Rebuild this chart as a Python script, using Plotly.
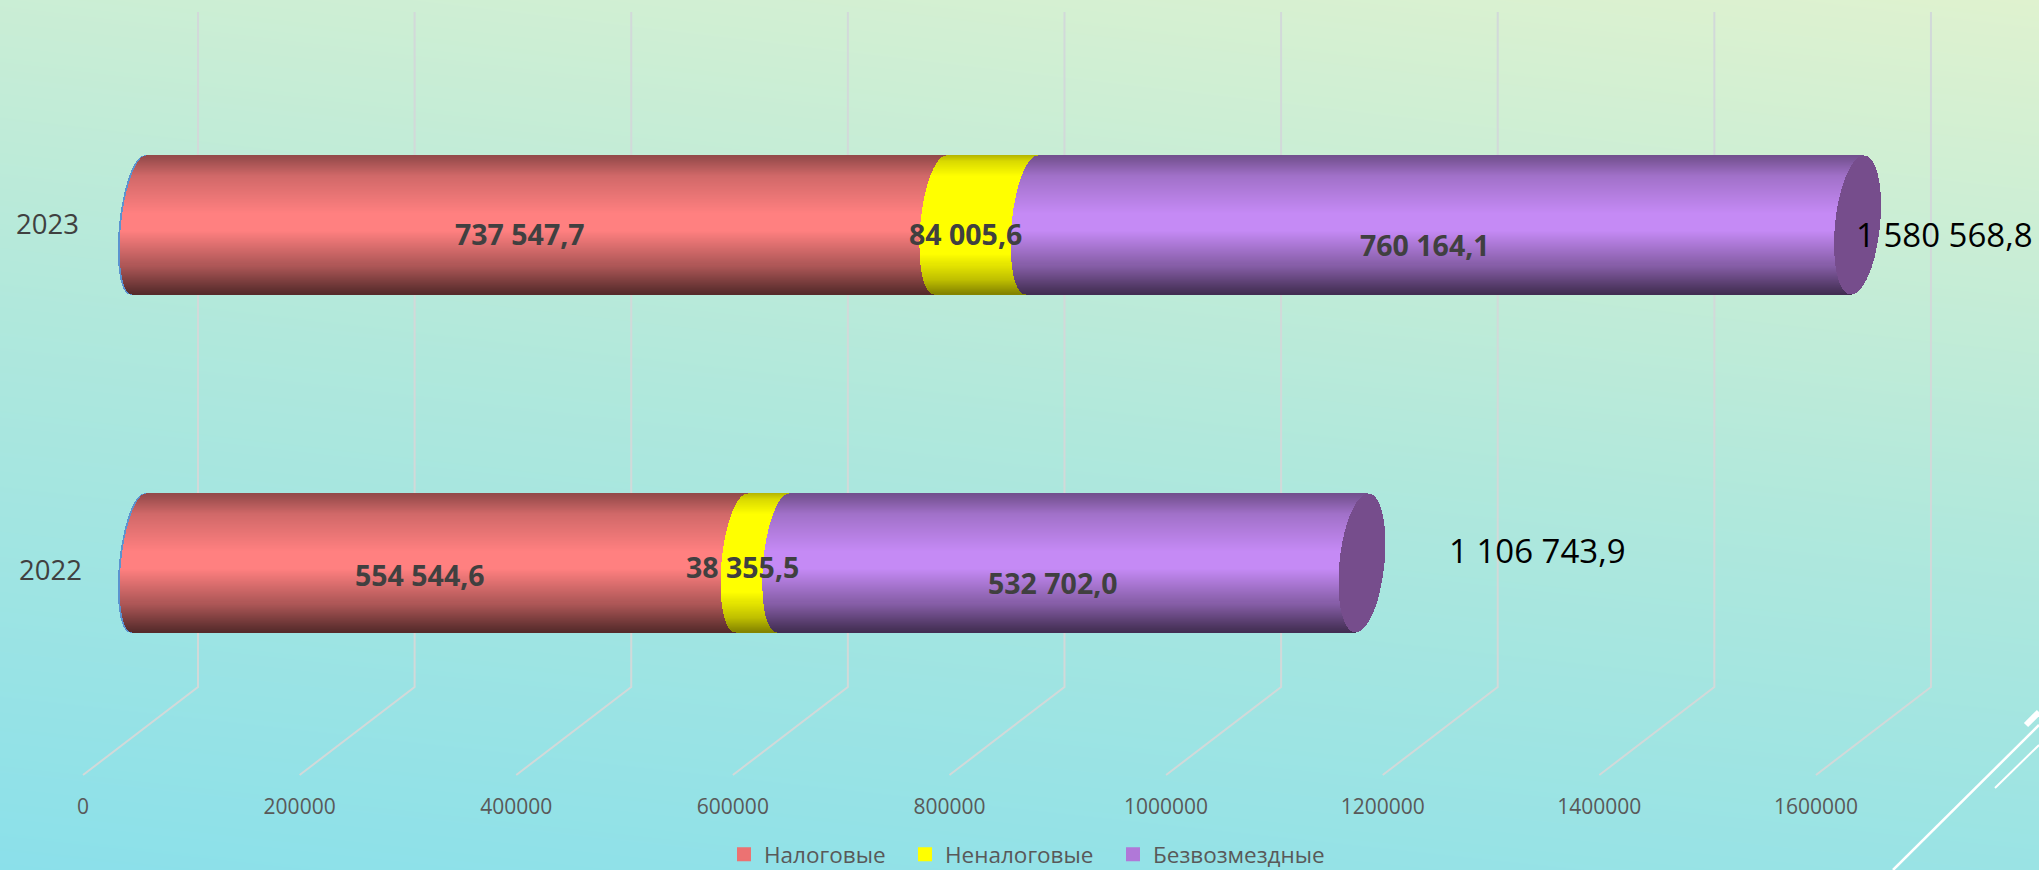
import numpy as np
import plotly.graph_objects as go

# ---- data ----
years = ["2022", "2023"]
year_pos = [0, 1]
nalog = [554544.6, 737547.7]
nenalog = [38355.5, 84005.6]
bezvoz = [532702.0, 760164.1]
totals = [1106743.9, 1580568.8]
nalog_labels = ["554 544,6", "737 547,7"]
nenalog_labels = ["38 355,5", "84 005,6"]
bezvoz_labels = ["532 702,0", "760 164,1"]
total_labels = ["1 106 743,9", "1 580 568,8"]
tick_vals = [0, 200000, 400000, 600000, 800000, 1000000, 1200000, 1400000, 1600000]
series_names = ["Налоговые", "Неналоговые", "Безвозмездные"]
series_colors = ["#EC7272", "#FFFF00", "#B078D8"]
base_rgb = [(255, 128, 128), (255, 255, 0), (197, 138, 245)]

W, H = 2039, 870

# ---- axis calibration: pixels per unit for the floor plane and the bar plane ----
floor_k, floor_p0 = 0.0010831, 83.0
bar_k, bar_p0 = 0.0010865, 139.0
y_k, y_p0 = 338.0, 562.5

x_range = [(0 - floor_p0) / floor_k, (W - floor_p0) / floor_k]
x2_range = [(0 - bar_p0) / bar_k, (W - bar_p0) / bar_k]
y_range = [(y_p0 - H) / y_k, y_p0 / y_k]


def y_at(px):
    return (y_p0 - px) / y_k


# shading profiles of the cylinder, top (0) to bottom (1)
prof_t = [0.0, 0.03, 0.15, 0.42, 0.55, 0.8, 0.95, 1.0]
prof_m = [0.58, 0.62, 0.82, 1.0, 1.0, 0.68, 0.42, 0.34]
yel_t = [0.0, 0.04, 0.15, 0.72, 0.9, 1.0]
yel_m = [0.72, 0.85, 1.0, 1.0, 0.75, 0.52]
N = 138
half_h = 69.0 / y_k
band_t = np.linspace(1, -1, N)
root = np.sqrt(np.clip(1 - band_t ** 2, 0, 1))
frac = (1 - band_t) / 2
shade = np.interp(frac, prof_t, prof_m)
shade_y = np.interp(frac, yel_t, yel_m)
band_w = 2 * half_h / N * 1.6


def rgb(c, m):
    return "rgb(%d,%d,%d)" % tuple(int(v * m) for v in c)


def edge(value, a_px=20.0, s_px=6.0):
    """left rim of the ring at `value`, per band"""
    return value + (s_px * band_t - a_px * root) / bar_k


fig = go.Figure()

# background
fig.add_trace(go.Heatmap(
    x=x_range, y=y_range, z=[[0.0, 0.2], [0.78, 1.0]], zsmooth="best", zmin=0, zmax=1,
    colorscale=[[0, "#8BE0EA"], [0.5, "#B0E8DC"], [1, "#DFF2CF"]],
    showscale=False, hoverinfo="skip", xaxis="x", yaxis="y",
))

# wall + floor grid lines
dx = 115.0 / floor_k
gx, gy = [], []
for t in tick_vals:
    gx += [t, t + dx, t + dx, None]
    gy += [y_at(775), y_at(687), y_at(12), None]
fig.add_trace(go.Scatter(x=gx, y=gy, mode="lines", line=dict(color="#D2D9D9", width=2),
                         hoverinfo="skip", showlegend=False, xaxis="x", yaxis="y"))

# blue rim on the left of the cylinders
rim_y, rim_b, rim_x = [], [], []
for yp in year_pos:
    rim_y += list(yp + band_t * half_h)
    rim_b += list(edge(0, 18.0, 7.0) - 1.8 / bar_k)
    rim_x += [6 / bar_k] * N
fig.add_trace(go.Bar(y=rim_y, base=rim_b, x=rim_x, width=band_w, orientation="h",
                     marker=dict(color="#5B93CF", line=dict(width=0)),
                     hoverinfo="skip", showlegend=False, xaxis="x2", yaxis="y"))

# stacked cylinder segments
stack = np.array([nalog, nenalog, bezvoz])
for s, (name, c) in enumerate(zip(series_names, base_rgb)):
    yy, bb, xx, cc = [], [], [], []
    sh = shade_y if s == 1 else shade
    for i, yp in enumerate(year_pos):
        start = stack[:s, i].sum()
        end = stack[:s + 1, i].sum()
        left = edge(start, 18.0, 7.0) if s == 0 else edge(start)
        right = end + 6.0 * band_t / bar_k if s == 2 else edge(end)
        yy += list(yp + band_t * half_h)
        bb += list(left)
        xx += list(right - left)
        cc += [rgb(c, m) for m in sh]
    fig.add_trace(go.Bar(y=yy, base=bb, x=xx, width=band_w, orientation="h",
                         marker=dict(color=cc, line=dict(width=0)),
                         name=name, hoverinfo="skip", showlegend=False,
                         xaxis="x2", yaxis="y"))

# end cap
cy, cb, cx = [], [], []
for i, yp in enumerate(year_pos):
    end = stack[:, i].sum()
    cy += list(yp + band_t * half_h)
    cb += list(end + (6.5 * band_t - 22.5 * root) / bar_k)
    cx += list(2 * 22.5 * root / bar_k)
fig.add_trace(go.Bar(y=cy, base=cb, x=cx, width=band_w, orientation="h",
                     marker=dict(color="#764D8C", line=dict(width=0)),
                     hoverinfo="skip", showlegend=False, xaxis="x2", yaxis="y"))

# legend entries: one legend per series so each sits at its own place
legend_ids = ["legend", "legend2", "legend3"]
legend_px = [724, 905, 1113]
for name, col, lid in zip(series_names, series_colors, legend_ids):
    fig.add_trace(go.Bar(y=[None], x=[None], orientation="h", name=name, legend=lid,
                         marker=dict(color=col, line=dict(width=2, color=col)),
                         hoverinfo="skip", xaxis="x2", yaxis="y"))

# labels
ann = []
LBL = dict(family="Open Sans", size=28.5, color="#404040")
yshifts = {0: [-12.5, -9.5], 1: [-4.5, -9.5], 2: [-20.5, -20.5]}
label_sets = [nalog_labels, nenalog_labels, bezvoz_labels]
for s in range(3):
    for i, yp in enumerate(year_pos):
        mid = stack[:s, i].sum() + stack[s, i] / 2
        ann.append(dict(x=mid, y=yp, xref="x2", yref="y", text="<b>%s</b>" % label_sets[s][i],
                        showarrow=False, font=LBL, xshift=-20, yshift=yshifts[s][i]))
tot_shift = [(196.5, 12.5), (88.5, -9.5)]
for i, yp in enumerate(year_pos):
    ann.append(dict(x=totals[i], y=yp, xref="x2", yref="y", text=total_labels[i], showarrow=False,
                    font=dict(family="Open Sans", size=33, color="#000000"),
                    xshift=tot_shift[i][0], yshift=tot_shift[i][1]))
# category labels
cat_x = [50, 47]
cat_y = [569, 223.5]
for i in range(2):
    ann.append(dict(x=cat_x[i] / W, y=1 - cat_y[i] / H, xref="paper", yref="paper", text=years[i],
                    xanchor="center", yanchor="middle",
                    showarrow=False, font=dict(family="Open Sans", size=27.5, color="#404040")))

# white decorative strokes in the corner
deco = [
    dict(x0=1893, y0=870, x1=2039, y1=725, w=2.5),
    dict(x0=1995, y0=788, x1=2039, y1=745, w=2),
    dict(x0=2026, y0=725, x1=2039, y1=712, w=6),
]
shapes = [dict(type="line", xref="paper", yref="paper", x0=d["x0"] / W, x1=d["x1"] / W,
               y0=1 - d["y0"] / H, y1=1 - d["y1"] / H, line=dict(color="#FFFFFF", width=d["w"]))
          for d in deco]

legend_style = dict(orientation="h", xanchor="left", y=1 - 854.5 / H, yanchor="middle",
                    font=dict(family="Open Sans", size=22.5, color="#595959"),
                    bgcolor="rgba(0,0,0,0)")

fig.update_layout(
    width=W, height=H, margin=dict(l=0, r=0, t=0, b=0, autoexpand=False), autosize=False,
    barmode="overlay", bargap=0, paper_bgcolor="#B0E8DC", plot_bgcolor="rgba(0,0,0,0)",
    font=dict(family="Open Sans", color="#595959"),
    xaxis=dict(range=x_range, domain=[0, 1], tickmode="array", tickvals=tick_vals,
               ticktext=[str(t) for t in tick_vals], showgrid=False, zeroline=False, showline=False,
               ticks="", tickfont=dict(family="Open Sans", size=21, color="#595959"),
               anchor="free", position=(H - 792) / H, fixedrange=True, automargin=False),
    xaxis2=dict(range=x2_range, overlaying="x", visible=False, anchor="y", fixedrange=True),
    yaxis=dict(range=y_range, domain=[0, 1], visible=False, fixedrange=True),
    legend=dict(x=legend_px[0] / W, **legend_style),
    legend2=dict(x=legend_px[1] / W, **legend_style),
    legend3=dict(x=legend_px[2] / W, **legend_style),
    annotations=ann, shapes=shapes, showlegend=True,
)

fig.write_html("out.html", config={"displayModeBar": False},
               post_script="document.body.style.margin='0';document.documentElement.style.overflow='hidden';")
